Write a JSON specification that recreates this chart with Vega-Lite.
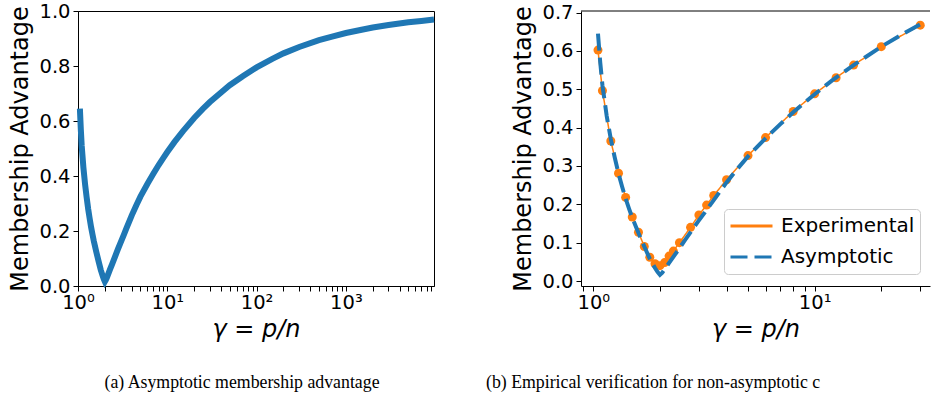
{
  "$schema": "https://vega.github.io/schema/vega-lite/v6.json",
  "padding": {"left": 8, "top": 0, "right": 0, "bottom": 0},
  "background": "white",
  "bounds": "flush",
  "spacing": 147,
  "config": {
    "font": "DejaVu Sans",
    "axis": {
      "labelFont": "DejaVu Sans", "labelFontSize": 19.5, "labelColor": "black",
      "titleFont": "DejaVu Sans", "titleFontSize": 24, "titleFontWeight": "normal", "titleColor": "black",
      "domainColor": "black", "domainWidth": 1, "tickColor": "black", "tickWidth": 1,
      "grid": false, "labelFlush": false, "labelOverlap": false
    },
    "title": {"font": "Liberation Serif", "fontSize": 17.8, "fontWeight": "normal", "color": "black"}
  },
  "datasets": {
    "asym": [
      {"g": 1.05, "adv": 0.645, "series": "Asymptotic"},
      {"g": 1.075, "adv": 0.57, "series": "Asymptotic"},
      {"g": 1.1, "adv": 0.51, "series": "Asymptotic"},
      {"g": 1.15, "adv": 0.43, "series": "Asymptotic"},
      {"g": 1.2, "adv": 0.37, "series": "Asymptotic"},
      {"g": 1.25, "adv": 0.322, "series": "Asymptotic"},
      {"g": 1.3, "adv": 0.28, "series": "Asymptotic"},
      {"g": 1.35, "adv": 0.246, "series": "Asymptotic"},
      {"g": 1.4, "adv": 0.215, "series": "Asymptotic"},
      {"g": 1.45, "adv": 0.189, "series": "Asymptotic"},
      {"g": 1.5, "adv": 0.165, "series": "Asymptotic"},
      {"g": 1.6, "adv": 0.125, "series": "Asymptotic"},
      {"g": 1.7, "adv": 0.09, "series": "Asymptotic"},
      {"g": 1.8, "adv": 0.058, "series": "Asymptotic"},
      {"g": 1.9, "adv": 0.034, "series": "Asymptotic"},
      {"g": 1.95, "adv": 0.024, "series": "Asymptotic"},
      {"g": 2.0, "adv": 0.016, "series": "Asymptotic"},
      {"g": 2.05, "adv": 0.022, "series": "Asymptotic"},
      {"g": 2.1, "adv": 0.03, "series": "Asymptotic"},
      {"g": 2.2, "adv": 0.047, "series": "Asymptotic"},
      {"g": 2.3, "adv": 0.063, "series": "Asymptotic"},
      {"g": 2.4, "adv": 0.078, "series": "Asymptotic"},
      {"g": 2.6, "adv": 0.107, "series": "Asymptotic"},
      {"g": 2.8, "adv": 0.134, "series": "Asymptotic"},
      {"g": 3.0, "adv": 0.158, "series": "Asymptotic"},
      {"g": 3.25, "adv": 0.185, "series": "Asymptotic"},
      {"g": 3.5, "adv": 0.211, "series": "Asymptotic"},
      {"g": 4, "adv": 0.257, "series": "Asymptotic"},
      {"g": 4.5, "adv": 0.294, "series": "Asymptotic"},
      {"g": 5, "adv": 0.325, "series": "Asymptotic"},
      {"g": 6, "adv": 0.372, "series": "Asymptotic"},
      {"g": 7, "adv": 0.409, "series": "Asymptotic"},
      {"g": 8, "adv": 0.44, "series": "Asymptotic"},
      {"g": 9, "adv": 0.465, "series": "Asymptotic"},
      {"g": 10, "adv": 0.487, "series": "Asymptotic"},
      {"g": 12, "adv": 0.523, "series": "Asymptotic"},
      {"g": 15, "adv": 0.563, "series": "Asymptotic"},
      {"g": 20, "adv": 0.611, "series": "Asymptotic"},
      {"g": 25, "adv": 0.644, "series": "Asymptotic"},
      {"g": 30, "adv": 0.669, "series": "Asymptotic"},
      {"g": 40, "adv": 0.704, "series": "Asymptotic"},
      {"g": 50, "adv": 0.73, "series": "Asymptotic"},
      {"g": 70, "adv": 0.763, "series": "Asymptotic"},
      {"g": 100, "adv": 0.795, "series": "Asymptotic"},
      {"g": 150, "adv": 0.826, "series": "Asymptotic"},
      {"g": 200, "adv": 0.846, "series": "Asymptotic"},
      {"g": 300, "adv": 0.869, "series": "Asymptotic"},
      {"g": 500, "adv": 0.894, "series": "Asymptotic"},
      {"g": 700, "adv": 0.907, "series": "Asymptotic"},
      {"g": 1000, "adv": 0.92, "series": "Asymptotic"},
      {"g": 1500, "adv": 0.932, "series": "Asymptotic"},
      {"g": 2000, "adv": 0.94, "series": "Asymptotic"},
      {"g": 3000, "adv": 0.949, "series": "Asymptotic"},
      {"g": 5000, "adv": 0.959, "series": "Asymptotic"},
      {"g": 7000, "adv": 0.964, "series": "Asymptotic"},
      {"g": 9700, "adv": 0.969, "series": "Asymptotic"}
    ],
    "exp": [
      {"g": 1.05, "adv": 0.602, "series": "Experimental"},
      {"g": 1.1, "adv": 0.496, "series": "Experimental"},
      {"g": 1.2, "adv": 0.365, "series": "Experimental"},
      {"g": 1.3, "adv": 0.281, "series": "Experimental"},
      {"g": 1.4, "adv": 0.218, "series": "Experimental"},
      {"g": 1.5, "adv": 0.167, "series": "Experimental"},
      {"g": 1.6, "adv": 0.127, "series": "Experimental"},
      {"g": 1.7, "adv": 0.09, "series": "Experimental"},
      {"g": 1.8, "adv": 0.062, "series": "Experimental"},
      {"g": 1.9, "adv": 0.045, "series": "Experimental"},
      {"g": 2.0, "adv": 0.04, "series": "Experimental"},
      {"g": 2.1, "adv": 0.048, "series": "Experimental"},
      {"g": 2.2, "adv": 0.065, "series": "Experimental"},
      {"g": 2.3, "adv": 0.078, "series": "Experimental"},
      {"g": 2.45, "adv": 0.1, "series": "Experimental"},
      {"g": 2.75, "adv": 0.14, "series": "Experimental"},
      {"g": 3.0, "adv": 0.172, "series": "Experimental"},
      {"g": 3.25, "adv": 0.198, "series": "Experimental"},
      {"g": 3.5, "adv": 0.223, "series": "Experimental"},
      {"g": 4, "adv": 0.264, "series": "Experimental"},
      {"g": 5, "adv": 0.327, "series": "Experimental"},
      {"g": 6, "adv": 0.374, "series": "Experimental"},
      {"g": 8, "adv": 0.442, "series": "Experimental"},
      {"g": 10, "adv": 0.488, "series": "Experimental"},
      {"g": 12.5, "adv": 0.53, "series": "Experimental"},
      {"g": 15, "adv": 0.563, "series": "Experimental"},
      {"g": 20, "adv": 0.611, "series": "Experimental"},
      {"g": 30, "adv": 0.667, "series": "Experimental"}
    ]
  },
  "hconcat": [
    {
      "width": 356,
      "height": 275,
      "view": {"stroke": "black", "strokeWidth": 1},
      "title": {"text": "(a) Asymptotic membership advantage", "orient": "bottom", "anchor": "middle", "frame": "group", "dx": -14, "offset": 32},
      "data": {"name": "asym"},
      "mark": {"type": "line", "color": "#1f77b4", "strokeWidth": 6, "clip": false},
      "encoding": {
        "x": {
          "field": "g", "type": "quantitative",
          "scale": {"type": "log", "domain": [1, 9700], "nice": false},
          "axis": {
            "title": "γ = p/n", "titleFontStyle": "italic", "titlePadding": 6,
            "values": [1,2,3,4,5,6,7,8,9,10,20,30,40,50,60,70,80,90,100,200,300,400,500,600,700,800,900,1000,2000,3000,4000,5000,6000,7000,8000,9000],
            "labelExpr": "datum.value == 1 ? '10⁰' : datum.value == 10 ? '10¹' : datum.value == 100 ? '10²' : datum.value == 1000 ? '10³' : ''",
            "tickSize": 5,
            "labelPadding": 2,
            "labelOverlap": false
          }
        },
        "y": {
          "field": "adv", "type": "quantitative",
          "scale": {"domain": [0, 1], "nice": false},
          "axis": {
            "title": "Membership Advantage", "values": [0, 0.2, 0.4, 0.6, 0.8, 1.0], "format": ".1f",
            "tickSize": 5, "labelPadding": 3, "titlePadding": 6, "labelOverlap": false
          }
        }
      }
    },
    {
      "width": 349,
      "height": 275,
      "view": {"stroke": null},
      "title": {"text": "(b) Empirical verification for non-asymptotic c", "orient": "bottom", "anchor": "start", "frame": "group", "dx": -95, "offset": 32},
      "layer": [
        {
          "data": {"name": "exp"},
          "mark": {"type": "line", "strokeWidth": 1.5},
          "encoding": {
            "x": {
              "field": "g", "type": "quantitative",
              "scale": {"type": "log", "domain": [0.88, 33.2], "nice": false},
              "axis": {
                "title": "γ = p/n", "titleFontStyle": "italic", "titlePadding": 6,
                "values": [0.9,1,2,3,4,5,6,7,8,9,10,20,30],
                "labelExpr": "datum.value == 1 ? '10⁰' : datum.value == 10 ? '10¹' : ''",
                "tickSize": 5, "labelPadding": 2, "labelOverlap": false
              }
            },
            "y": {
              "field": "adv", "type": "quantitative",
              "scale": {"domain": [-0.013, 0.704], "nice": false},
              "axis": {
                "title": "Membership Advantage", "values": [0, 0.1, 0.2, 0.3, 0.4, 0.5, 0.6, 0.7], "format": ".1f",
                "tickSize": 5, "labelPadding": 3, "titlePadding": 6, "labelOverlap": false
              }
            },
            "color": {
              "field": "series", "type": "nominal",
              "scale": {"domain": ["Experimental", "Asymptotic"], "range": ["#ff7f0e", "#1f77b4"]},
              "legend": {
                "title": null, "orient": "none", "legendX": 646, "legendY": 198, "direction": "vertical",
                "fillColor": "rgba(255,255,255,0.8)", "strokeColor": "#cccccc", "cornerRadius": 4, "padding": 5,
                "labelFont": "DejaVu Sans", "labelFontSize": 20, "labelColor": "black", "labelOffset": 7,
                "symbolType": "stroke", "symbolSize": 1764, "symbolStrokeWidth": 3, "clipHeight": 24, "rowPadding": 7
              }
            },
            "strokeDash": {
              "field": "series", "type": "nominal",
              "scale": {"domain": ["Experimental", "Asymptotic"], "range": [[1, 0], [17, 7]]},
              "legend": {
                "title": null, "orient": "none", "legendX": 646, "legendY": 198, "direction": "vertical",
                "fillColor": "rgba(255,255,255,0.8)", "strokeColor": "#cccccc", "cornerRadius": 4, "padding": 5,
                "labelFont": "DejaVu Sans", "labelFontSize": 20, "labelColor": "black", "labelOffset": 7,
                "symbolType": "stroke", "symbolSize": 1764, "symbolStrokeWidth": 3, "clipHeight": 24, "rowPadding": 7
              }
            }
          }
        },
        {
          "data": {"name": "exp"},
          "mark": {"type": "point", "filled": true, "size": 81, "opacity": 1, "color": "#ff7f0e"},
          "encoding": {
            "x": {
              "field": "g", "type": "quantitative",
              "axis": {
                "title": "γ = p/n", "titleFontStyle": "italic", "titlePadding": 6,
                "values": [0.9,1,2,3,4,5,6,7,8,9,10,20,30],
                "labelExpr": "datum.value == 1 ? '10⁰' : datum.value == 10 ? '10¹' : ''",
                "tickSize": 5, "labelPadding": 2, "labelOverlap": false
              }
            },
            "y": {
              "field": "adv", "type": "quantitative",
              "axis": {
                "title": "Membership Advantage", "values": [0, 0.1, 0.2, 0.3, 0.4, 0.5, 0.6, 0.7], "format": ".1f",
                "tickSize": 5, "labelPadding": 3, "titlePadding": 6, "labelOverlap": false
              }
            }
          }
        },
        {
          "data": {"name": "asym"},
          "transform": [{"filter": "datum.g <= 30"}],
          "mark": {"type": "line", "strokeWidth": 4},
          "encoding": {
            "x": {
              "field": "g", "type": "quantitative",
              "axis": {
                "title": "γ = p/n", "titleFontStyle": "italic", "titlePadding": 6,
                "values": [0.9,1,2,3,4,5,6,7,8,9,10,20,30],
                "labelExpr": "datum.value == 1 ? '10⁰' : datum.value == 10 ? '10¹' : ''",
                "tickSize": 5, "labelPadding": 2, "labelOverlap": false
              }
            },
            "y": {
              "field": "adv", "type": "quantitative",
              "axis": {
                "title": "Membership Advantage", "values": [0, 0.1, 0.2, 0.3, 0.4, 0.5, 0.6, 0.7], "format": ".1f",
                "tickSize": 5, "labelPadding": 3, "titlePadding": 6, "labelOverlap": false
              }
            },
            "color": {"field": "series", "type": "nominal"},
            "strokeDash": {"field": "series", "type": "nominal"}
          }
        },
        {
          "data": {"values": [{}]},
          "mark": {"type": "rule", "color": "black", "strokeWidth": 1},
          "encoding": {
            "y": {
              "datum": 0.704,
              "axis": {
                "title": "Membership Advantage", "values": [0, 0.1, 0.2, 0.3, 0.4, 0.5, 0.6, 0.7], "format": ".1f",
                "tickSize": 5, "labelPadding": 3, "titlePadding": 6, "labelOverlap": false
              }
            }
          }
        }
      ]
    }
  ]
}
